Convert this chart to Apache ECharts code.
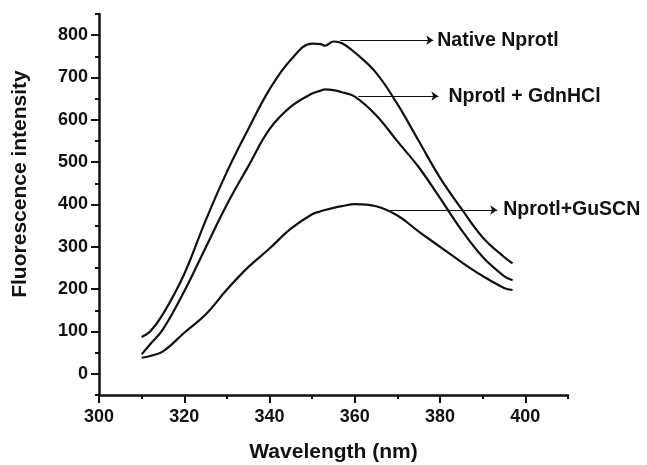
<!DOCTYPE html>
<html>
<head>
<meta charset="utf-8">
<script src="https://cdn.jsdelivr.net/npm/echarts@6/dist/echarts.min.js"></script>
<style>
html,body{margin:0;padding:0;background:#fff;}
#chart{width:647px;height:465px;}
</style>
</head>
<body>
<div id="chart"></div>
<script>
// ---- data ----
const wavelengths = [310,312,315,320,325,330,335,340,345,350,352,353,355,357,360,365,370,375,380,385,390,395,397];
const nativeNprotl = [87,100,141,236,362,477,578,672,742,780,779,775,785,781,759,711,637,550,463,390,322,276,261];
const nprotlGdnHCl = [46,70,105,195,298,400,490,578,631,662,669,672,670,665,655,611,549,488,415,340,276,231,221];
const nprotlGuSCN  = [38,42,53,97,140,199,252,296,343,377,384,387,392,396,401,396,374,336,300,264,231,203,198];

const xMajorTicks = [300,320,340,360,380,400];
const yMajorTicks = [0,100,200,300,400,500,600,700,800];

const annotationLabels = ['Native Nprotl','Nprotl + GdnHCl','Nprotl+GuSCN'];
const annotationStartX = [356.6,360.8,368.3];
const annotationEndX   = [378.4,379.6,393.4];
const annotationY      = [788,656,387];

// ---- chart ----
const FONT = '"Liberation Sans", Arial, Helvetica, sans-serif';
const INK = '#111';
const chart = echarts.init(document.getElementById('chart'), null, {renderer:'canvas'});

const seriesValues = [nativeNprotl, nprotlGdnHCl, nprotlGuSCN];
const labelGaps = [4, 10, 6];

const series = seriesValues.map((vals, i) => ({
  type: 'line',
  name: annotationLabels[i],
  xAxisIndex: 0,
  yAxisIndex: 0,
  data: wavelengths.map((w, j) => [w, vals[j]]),
  smooth: 0.4,
  showSymbol: false,
  symbol: 'none',
  lineStyle: {color: INK, width: 2.2},
  animation: false,
  silent: true,
  markLine: {
    silent: true,
    animation: false,
    symbol: ['none', 'arrow'],
    symbolSize: 7,
    lineStyle: {color: INK, width: 1.1, type: 'solid'},
    label: {
      show: true,
      position: 'end',
      distance: labelGaps[i],
      formatter: annotationLabels[i],
      color: INK,
      fontFamily: FONT,
      fontWeight: 'bold',
      fontSize: 19.5
    },
    data: [[
      {coord: [annotationStartX[i], annotationY[i]]},
      {coord: [annotationEndX[i], annotationY[i]]}
    ]]
  }
}));

const option = {
  backgroundColor: '#fff',
  animation: false,
  grid: {left: 99, right: 79, top: 14, bottom: 70, containLabel: false, outerBoundsMode: 'none'},
  xAxis: [
    {
      type: 'value', position: 'bottom', min: 300, max: 410, interval: 20,
      name: 'Wavelength (nm)', nameLocation: 'middle', nameGap: 47,
      nameTextStyle: {color: INK, fontFamily: FONT, fontWeight: 'bold', fontSize: 21},
      axisLine: {show: true, onZero: false, lineStyle: {color: INK, width: 2.5}},
      axisTick: {show: true, inside: false, length: 8, lineStyle: {color: INK, width: 2}, customValues: xMajorTicks},
      axisLabel: {show: true, margin: 13, color: INK, fontFamily: FONT, fontWeight: 'bold', fontSize: 18, customValues: xMajorTicks},
      splitLine: {show: false}
    },
    {
      type: 'value', position: 'bottom', min: 300, max: 410, interval: 10,
      axisLine: {show: false, onZero: false},
      axisTick: {show: true, inside: false, length: 4, lineStyle: {color: INK, width: 2}},
      axisLabel: {show: false},
      splitLine: {show: false}
    }
  ],
  yAxis: [
    {
      type: 'value', position: 'left', min: -50, max: 850, interval: 50,
      name: 'Fluorescence intensity', nameLocation: 'middle', nameGap: 68, nameRotate: 90,
      nameTextStyle: {color: INK, fontFamily: FONT, fontWeight: 'bold', fontSize: 21, padding: [0,0,0,41]},
      axisLine: {show: true, onZero: false, lineStyle: {color: INK, width: 2.5}},
      axisTick: {show: true, inside: false, length: 8, lineStyle: {color: INK, width: 2}, customValues: yMajorTicks},
      axisLabel: {show: true, margin: 11, color: INK, fontFamily: FONT, fontWeight: 'bold', fontSize: 18, customValues: yMajorTicks},
      splitLine: {show: false}
    },
    {
      type: 'value', position: 'left', min: -50, max: 850, interval: 50,
      axisLine: {show: false, onZero: false},
      axisTick: {show: true, inside: false, length: 4, lineStyle: {color: INK, width: 2}},
      axisLabel: {show: false},
      splitLine: {show: false}
    }
  ],
  series: series
};

chart.setOption(option);
</script>
</body>
</html>
